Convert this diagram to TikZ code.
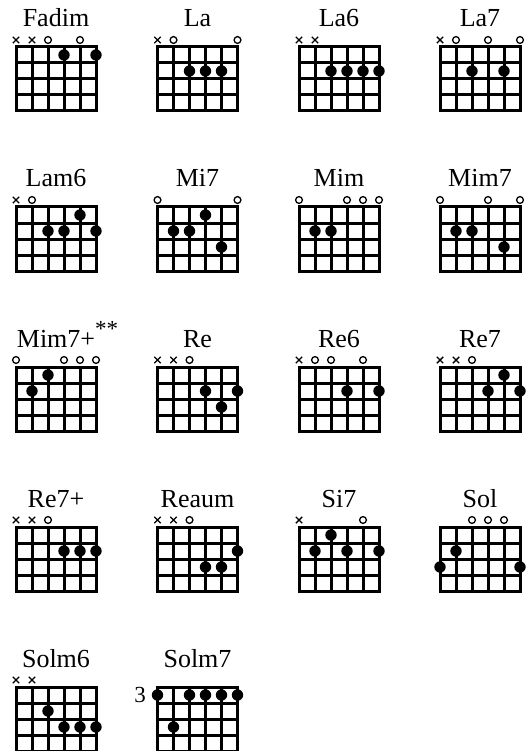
\documentclass[tikz,border=0pt]{standalone}
\usepackage{fontspec}
\setmainfont{Liberation Serif}
\tikzset{
  chordname/.style={anchor=base,inner sep=0pt,font=\fontsize{26}{31}\selectfont},
  fretnum/.style={anchor=east,inner sep=0pt,font=\fontsize{23}{27}\selectfont},
  fretline/.style={line width=3pt},
  mutemark/.style={line width=1.4pt},
  openmark/.style={line width=1.3pt},
  fingerdot/.style={fill=black}
}
% #1 name, #2 x, #3 y (top of grid), #4 title, #5 string/mark, #6 string/fret
\newcommand{\chordbox}[6]{%
  \begin{scope}[shift={(#2,#3)}]
    \node[chordname] (#1) at (40,-20) {#4};
    \draw[fretline] (0,0) rectangle (80,64);
    \foreach \i in {1,2,3} \draw[fretline] (0,16*\i) -- (80,16*\i);
    \foreach \s in {1,...,4} \draw[fretline] (16*\s,0) -- (16*\s,64);
    \foreach \s/\t in {#5} {
      \if x\t
        \draw[mutemark] ({16*(\s-1)-3.2},-10.2) -- ++(6.4,6.4) ({16*(\s-1)-3.2},-3.8) -- ++(6.4,-6.4);
      \else
        \draw[openmark] ({16*(\s-1)},-7) circle (3.4pt);
      \fi
    }
    \foreach \s/\f in {#6} \fill[fingerdot] ({16*(\s-1)},{16*\f-8}) circle (5.7pt);
  \end{scope}}

\begin{document}
\begin{tikzpicture}[x=1pt,y=-1pt]
  \useasboundingbox (0,0) rectangle (526,751);
  % row 1
  \chordbox{fadim}{16}{47}{Fadim}{1/x,2/x,3/o,5/o}{4/1,6/1}
  \chordbox{la}{157.5}{47}{La}{1/x,2/o,6/o}{3/2,4/2,5/2}
  \chordbox{lasix}{299}{47}{La6}{1/x,2/x}{3/2,4/2,5/2,6/2}
  \chordbox{lasept}{440}{47}{La7}{1/x,2/o,4/o,6/o}{3/2,5/2}
  % row 2
  \chordbox{lamsix}{16}{207}{Lam6}{1/x,2/o}{3/2,4/2,5/1,6/2}
  \chordbox{misept}{157.5}{207}{Mi7}{1/o,6/o}{2/2,3/2,4/1,5/3}
  \chordbox{mim}{299}{207}{Mim}{1/o,4/o,5/o,6/o}{2/2,3/2}
  \chordbox{mimsept}{440}{207}{Mim7}{1/o,4/o,6/o}{2/2,3/2,5/3}
  % row 3
  \chordbox{mimseptplus}{16}{367}{Mim7+\rlap{\raisebox{11pt}{\fontsize{23}{23}\selectfont **}}}{1/o,4/o,5/o,6/o}{2/2,3/1}
  \chordbox{re}{157.5}{367}{Re}{1/x,2/x,3/o}{4/2,5/3,6/2}
  \chordbox{resix}{299}{367}{Re6}{1/x,2/o,3/o,5/o}{4/2,6/2}
  \chordbox{resept}{440}{367}{Re7}{1/x,2/x,3/o}{4/2,5/1,6/2}
  % row 4
  \chordbox{reseptplus}{16}{527}{Re7+}{1/x,2/x,3/o}{4/2,5/2,6/2}
  \chordbox{reaum}{157.5}{527}{Reaum}{1/x,2/x,3/o}{4/3,5/3,6/2}
  \chordbox{sisept}{299}{527}{Si7}{1/x,5/o}{2/2,3/1,4/2,6/2}
  \chordbox{sol}{440}{527}{Sol}{3/o,4/o,5/o}{1/3,2/2,6/3}
  % row 5
  \chordbox{solmsix}{16}{687}{Solm6}{1/x,2/x}{3/2,4/3,5/3,6/3}
  \chordbox{solmsept}{157.5}{687}{Solm7}{}{1/1,2/3,3/1,4/1,5/1,6/1}
  \node[fretnum] (solmseptfret) at (146,695) {3};
\end{tikzpicture}
\end{document}
